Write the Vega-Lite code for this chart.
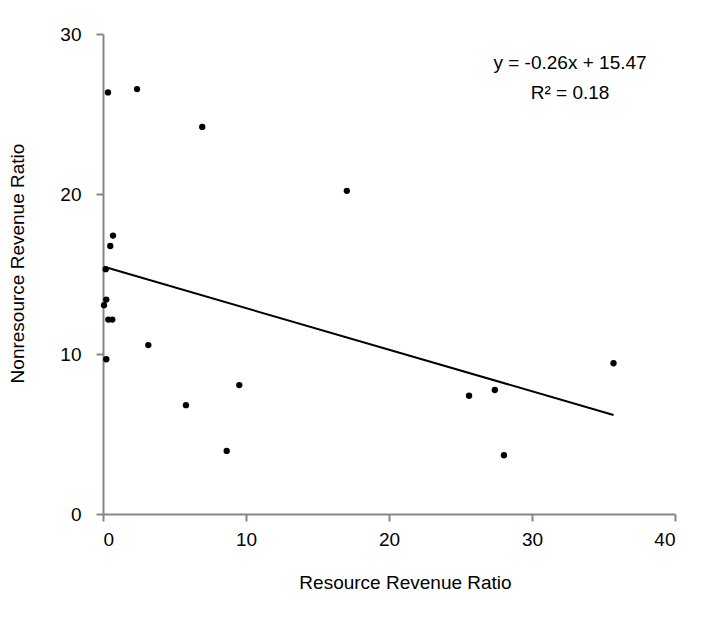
{
  "$schema": "https://vega.github.io/schema/vega-lite/v6.json",
  "autosize": "none",
  "width": 572,
  "height": 480,
  "padding": {"left": 103, "top": 34, "right": 31, "bottom": 105},
  "background": "white",
  "config": {
    "view": {"stroke": null},
    "font": "Liberation Sans",
    "axis": {
      "domainColor": "#868686",
      "domainWidth": 2,
      "tickColor": "#868686",
      "tickWidth": 2,
      "tickSize": 7,
      "grid": false,
      "labelFont": "Liberation Sans",
      "labelFontSize": 19,
      "labelColor": "#000000",
      "titleFont": "Liberation Sans",
      "titleFontSize": 19,
      "titleFontWeight": "normal",
      "titleColor": "#000000"
    }
  },
  "datasets": {
    "points": [
      {"rr": 0.07, "nr": 13.05},
      {"rr": 0.35, "nr": 26.35},
      {"rr": 2.38, "nr": 26.56},
      {"rr": 6.94, "nr": 24.19},
      {"rr": 17.05, "nr": 20.2},
      {"rr": 0.7, "nr": 17.4},
      {"rr": 0.51, "nr": 16.75},
      {"rr": 0.19, "nr": 15.3},
      {"rr": 0.23, "nr": 13.4},
      {"rr": 0.37, "nr": 12.15},
      {"rr": 0.65, "nr": 12.15},
      {"rr": 3.17, "nr": 10.56},
      {"rr": 0.23, "nr": 9.67},
      {"rr": 9.53, "nr": 8.06},
      {"rr": 8.65, "nr": 3.94},
      {"rr": 5.8, "nr": 6.8},
      {"rr": 25.6, "nr": 7.39},
      {"rr": 27.4, "nr": 7.75},
      {"rr": 28.04, "nr": 3.67},
      {"rr": 35.7, "nr": 9.42}
    ],
    "trend": [
      {"rr": 0.07, "nr": 15.45},
      {"rr": 35.7, "nr": 6.19}
    ],
    "labels": [
      {"rr": 32.66, "nr": 27.81, "text": "y = -0.26x + 15.47"},
      {"rr": 32.66, "nr": 25.94, "text": "R² = 0.18"}
    ]
  },
  "layer": [
    {
      "data": {"name": "points"},
      "mark": {"type": "point", "filled": true, "color": "#000000", "opacity": 1, "size": 40, "shape": "circle"},
      "encoding": {
        "x": {
          "field": "rr", "type": "quantitative",
          "scale": {"domain": [0, 40], "nice": false, "zero": false},
          "axis": {"values": [0, 10, 20, 30, 40], "title": "Resource Revenue Ratio", "labelPadding": 9, "titlePadding": 24, "titleX": 302}
        },
        "y": {
          "field": "nr", "type": "quantitative",
          "scale": {"domain": [0, 30], "nice": false, "zero": false},
          "axis": {"values": [0, 10, 20, 30], "title": "Nonresource Revenue Ratio", "labelPadding": 15, "titlePadding": 32, "titleY": 229}
        }
      }
    },
    {
      "data": {"name": "trend"},
      "mark": {"type": "line", "color": "#000000", "strokeWidth": 2},
      "encoding": {
        "x": {"field": "rr", "type": "quantitative"},
        "y": {"field": "nr", "type": "quantitative"}
      }
    },
    {
      "data": {"name": "labels"},
      "mark": {"type": "text", "align": "center", "baseline": "alphabetic", "fontSize": 19, "font": "Liberation Sans", "color": "#000000"},
      "encoding": {
        "x": {"field": "rr", "type": "quantitative"},
        "y": {"field": "nr", "type": "quantitative"},
        "text": {"field": "text", "type": "nominal"}
      }
    }
  ]
}
